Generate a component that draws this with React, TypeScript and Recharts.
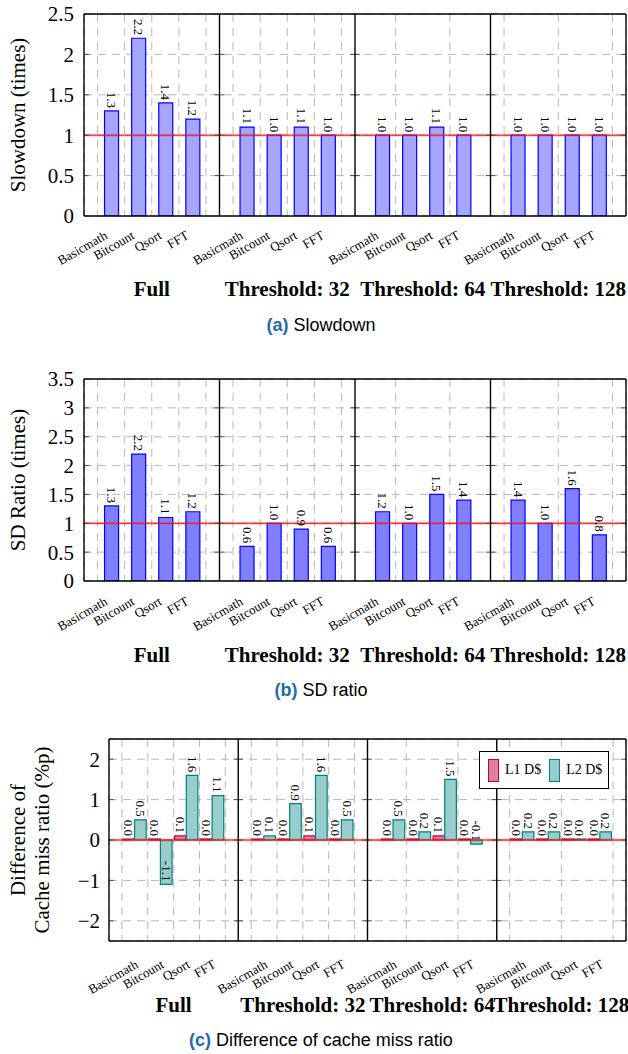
import React from 'react';
import {
  Bar,
  BarChart,
  CartesianGrid,
  Label,
  LabelList,
  Legend,
  ReferenceLine,
  XAxis,
  YAxis
} from 'recharts';

const benchmarks = ['Basicmath', 'Bitcount', 'Qsort', 'FFT'];
const groups = ['Full', 'Threshold: 32', 'Threshold: 64', 'Threshold: 128'];

// one inner list per group, benchmarks in the order above
const slowdown = [
  [1.3, 2.2, 1.4, 1.2],
  [1.1, 1.0, 1.1, 1.0],
  [1.0, 1.0, 1.1, 1.0],
  [1.0, 1.0, 1.0, 1.0]
];
const sdRatio = [
  [1.3, 2.2, 1.1, 1.2],
  [0.6, 1.0, 0.9, 0.6],
  [1.2, 1.0, 1.5, 1.4],
  [1.4, 1.0, 1.6, 0.8]
];
const l1Diff = [
  [0.0, 0.0, 0.1, 0.0],
  [0.0, 0.0, 0.1, 0.0],
  [0.0, 0.0, 0.1, 0.0],
  [0.0, 0.0, 0.0, 0.0]
];
const l2Diff = [
  [0.5, -1.1, 1.6, 1.1],
  [0.1, 0.9, 1.6, 0.5],
  [0.5, 0.2, 1.5, -0.1],
  [0.2, 0.2, 0.0, 0.2]
];

const slowdownTicks = [0, 0.5, 1, 1.5, 2, 2.5];
const sdTicks = [0, 0.5, 1, 1.5, 2, 2.5, 3, 3.5];
const missTicks = [-2, -1, 0, 1, 2];

const SERIF = '"Liberation Serif", "Times New Roman", serif';
const SANS = '"Liberation Sans", Arial, sans-serif';

// each group gets one slot per benchmark plus one spare slot (half on each side)
const SLOTS = benchmarks.length + 1;
const xMax = groups.length * SLOTS;
const pos = (g: number, j: number) => g * SLOTS + j + 1;
const barTicks = groups.flatMap((_, g) => benchmarks.map((_, j) => pos(g, j)));
const gridTicks = groups.flatMap((_, g) =>
  Array.from({ length: SLOTS }, (_, j) => g * SLOTS + j + 0.5)
);
const groupCenters = groups.map((_, g) => g * SLOTS + SLOTS / 2);
const panelEdges = Array.from({ length: groups.length + 1 }, (_, g) => g * SLOTS);
const TICK_LEN = 0.18; // inward tick length, in slots

function buildRows(a: number[][], b?: number[][]) {
  return groups.flatMap((group, g) =>
    benchmarks.map((name, j) => ({
      x: pos(g, j),
      name,
      group,
      a: a[g][j],
      b: b ? b[g][j] : undefined
    }))
  );
}

const slowdownRows = buildRows(slowdown);
const sdRows = buildRows(sdRatio);
const missRows = buildRows(l1Diff, l2Diff);

const fmtTick = (v: number) => (v < 0 ? '\u2212' + Math.abs(v) : String(v));

function ValueLabel(props: any) {
  const { x, y, width, height, value } = props;
  if (value === undefined || value === null) return null;
  const cx = Number(x) + Number(width) / 2;
  const y0 = Number(y);
  const y1 = Number(y) + Number(height);
  const end = (value < 0 ? Math.max(y0, y1) : Math.min(y0, y1)) - 3;
  return (
    <text
      x={cx}
      y={end}
      transform={`rotate(90 ${cx} ${end})`}
      textAnchor="end"
      dominantBaseline="central"
      fontFamily={SERIF}
      fontSize={13}
      fill="#000"
    >
      {Number(value).toFixed(1)}
    </text>
  );
}

type Series = { key: string; name: string; fill: string; stroke: string };

interface PanelProps {
  top: number;
  rows: any[];
  series: Series[];
  yDomain: [number, number];
  yTicks: number[];
  refY: number;
  title: string[];
  titleX: number[];
  axisWidth: number;
  yTickMargin: number;
  nameDx: number;
  nameDy: number;
  groupDy: number;
  barSize: number;
  legend?: boolean;
}

function Panel(p: PanelProps) {
  const renderTitle = (props: any) => {
    const vb = props.viewBox || {};
    const cy = vb.y + vb.height / 2;
    return (
      <g>
        {p.title.map((line, i) => {
          const tx = vb.x + p.titleX[i];
          return (
            <text
              key={line}
              x={tx}
              y={cy}
              transform={`rotate(-90 ${tx} ${cy})`}
              textAnchor="middle"
              dominantBaseline="central"
              fontFamily={SERIF}
              fontSize={21}
              fill="#000"
            >
              {line}
            </text>
          );
        })}
      </g>
    );
  };

  const nameTick = (props: any) => {
    const ax = props.x + p.nameDx;
    const ay = props.y + p.nameDy;
    const idx = (Math.round(props.payload.value) % SLOTS) - 1;
    return (
      <text
        x={ax}
        y={ay}
        transform={`rotate(-30 ${ax} ${ay})`}
        textAnchor="end"
        dominantBaseline="central"
        fontFamily={SERIF}
        fontSize={13}
        fill="#000"
      >
        {benchmarks[idx]}
      </text>
    );
  };

  const groupLabel = (text: string) => (props: any) => {
    const vb = props.viewBox || {};
    const cx = vb.x + (vb.width || 0) / 2;
    const bottom = Math.max(vb.y, vb.y + vb.height);
    return (
      <text
        x={cx}
        y={bottom + p.groupDy}
        textAnchor="middle"
        fontFamily={SERIF}
        fontWeight="bold"
        fontSize={21}
        fill="#000"
      >
        {text}
      </text>
    );
  };

  const legendContent = (props: any) => (
    <div
      style={{
        display: 'flex',
        alignItems: 'center',
        border: '1px solid #000',
        background: '#fff',
        height: 38,
        width: 130,
        boxSizing: 'border-box',
        paddingLeft: 8,
        fontFamily: SERIF,
        fontSize: 14,
        whiteSpace: 'nowrap'
      }}
    >
      {(props.payload || []).map((entry: any) => {
        const s = p.series.find((it) => it.key === entry.dataKey) || p.series[0];
        return (
          <div
            key={s.key}
            style={{ display: 'flex', alignItems: 'center', marginRight: 8, flexShrink: 0 }}
          >
            <span
              style={{
                display: 'inline-block',
                width: 9,
                height: 21,
                background: s.fill,
                border: `1.2px solid ${s.stroke}`,
                marginRight: 6,
                flexShrink: 0
              }}
            />
            <span>{s.name}</span>
          </div>
        );
      })}
    </div>
  );

  // short inward y ticks on both sides of every panel edge
  const innerTicks = p.yTicks.filter((t) => t > p.yDomain[0] && t < p.yDomain[1]);
  const edgeTicks = panelEdges.flatMap((e) =>
    innerTicks.flatMap((t) => {
      const segs: { x1: number; x2: number; y: number }[] = [];
      if (e > 0) segs.push({ x1: e - TICK_LEN, x2: e, y: t });
      if (e < xMax) segs.push({ x1: e, x2: e + TICK_LEN, y: t });
      return segs;
    })
  );

  return (
    <div style={{ position: 'absolute', left: 0, top: p.top }}>
      <BarChart
        width={628}
        height={306}
        data={p.rows}
        margin={{ top: 14, right: 2, bottom: 0, left: 0 }}
        barGap={0}
      >
        <CartesianGrid strokeDasharray="8 6" stroke="#b8b8b8" strokeWidth={1} />
        <XAxis
          xAxisId={0}
          dataKey="x"
          type="number"
          domain={[0, xMax]}
          ticks={gridTicks}
          allowDataOverflow
          height={0}
          hide
        />
        <XAxis
          xAxisId="names"
          dataKey="x"
          type="number"
          domain={[0, xMax]}
          ticks={barTicks}
          allowDataOverflow
          interval={0}
          height={90}
          axisLine={false}
          tickLine={false}
          tickSize={0}
          tickMargin={0}
          tick={nameTick}
        />
        <YAxis
          type="number"
          domain={p.yDomain}
          ticks={p.yTicks}
          allowDataOverflow
          interval={0}
          width={p.axisWidth}
          axisLine={false}
          tickLine={false}
          tickSize={0}
          tickMargin={p.yTickMargin}
          tickFormatter={fmtTick}
          tick={{ fontFamily: SERIF, fontSize: 21, fill: '#000' }}
        >
          <Label content={renderTitle} />
        </YAxis>
        {p.series.map((s) => (
          <Bar
            key={s.key}
            dataKey={s.key}
            name={s.name}
            fill={s.fill}
            stroke={s.stroke}
            strokeWidth={1.2}
            barSize={p.barSize}
            minPointSize={1}
            isAnimationActive={false}
          >
            <LabelList dataKey={s.key} content={ValueLabel} />
          </Bar>
        ))}
        <ReferenceLine y={p.refY} stroke="#ff0000" strokeOpacity={0.22} strokeWidth={3} />
        <ReferenceLine y={p.refY} stroke="#e41a1a" strokeWidth={1} />
        {edgeTicks.map((s, i) => (
          <ReferenceLine
            key={'t' + i}
            segment={[
              { x: s.x1, y: s.y },
              { x: s.x2, y: s.y }
            ]}
            stroke="#4d4d4d"
            strokeWidth={1}
          />
        ))}
        {panelEdges.map((e) => (
          <ReferenceLine key={e} x={e} stroke="#000" strokeWidth={1.4} />
        ))}
        <ReferenceLine y={p.yDomain[0]} stroke="#000" strokeWidth={1.4} />
        <ReferenceLine y={p.yDomain[1]} stroke="#000" strokeWidth={1.4} />
        {groupCenters.map((c, g) => (
          <ReferenceLine
            key={'g' + c}
            x={c}
            stroke="none"
            strokeWidth={0}
            label={{ content: groupLabel(groups[g]) }}
          />
        ))}
        {p.legend ? (
          <Legend
            layout="horizontal"
            align="center"
            verticalAlign="middle"
            wrapperStyle={{ left: 479, top: 26, width: 130, height: 38 }}
            content={legendContent}
          />
        ) : null}
      </BarChart>
    </div>
  );
}

function Caption({ top, tag, text }: { top: number; tag: string; text: string }) {
  return (
    <div
      style={{
        position: 'absolute',
        left: 7,
        width: 628,
        top,
        textAlign: 'center',
        fontFamily: SANS,
        fontSize: 18,
        lineHeight: '18px',
        color: '#000'
      }}
    >
      <b style={{ color: '#1f6aa8' }}>{tag}</b> {text}
    </div>
  );
}

const blueBars: Series[] = [{ key: 'a', name: 'Slowdown', fill: '#a6a6ff', stroke: '#0000ff' }];
const sdBars: Series[] = [{ key: 'a', name: 'SD ratio', fill: '#8080ff', stroke: '#0000ff' }];
const missBars: Series[] = [
  { key: 'a', name: 'L1 D$', fill: '#df809f', stroke: '#bf0040' },
  { key: 'b', name: 'L2 D$', fill: '#99cccc', stroke: '#008080' }
];

export default function App() {
  return (
    <div style={{ position: 'absolute', left: 0, top: 0, width: 628, height: 1054, background: '#fff' }}>
      <Panel
        top={0}
        rows={slowdownRows}
        series={blueBars}
        yDomain={[0, 2.5]}
        yTicks={slowdownTicks}
        refY={1}
        title={['Slowdown (times)']}
        titleX={[17.5]}
        axisWidth={84}
        yTickMargin={10}
        nameDx={-5}
        nameDy={18}
        groupDy={80}
        barSize={14}
      />
      <Caption top={316} tag="(a)" text="Slowdown" />
      <Panel
        top={365}
        rows={sdRows}
        series={sdBars}
        yDomain={[0, 3.5]}
        yTicks={sdTicks}
        refY={1}
        title={['SD Ratio (times)']}
        titleX={[17.5]}
        axisWidth={84}
        yTickMargin={10}
        nameDx={-5}
        nameDy={19}
        groupDy={81}
        barSize={14}
      />
      <Caption top={681} tag="(b)" text="SD ratio" />
      <Panel
        top={725}
        rows={missRows}
        series={missBars}
        yDomain={[-2.5, 2.5]}
        yTicks={missTicks}
        refY={0}
        title={['Difference of', 'Cache miss ratio (%p)']}
        titleX={[18, 42]}
        axisWidth={109}
        yTickMargin={9}
        nameDx={2}
        nameDy={22}
        groupDy={71}
        barSize={13}
        legend
      />
      <Caption top={1031} tag="(c)" text="Difference of cache miss ratio" />
    </div>
  );
}
